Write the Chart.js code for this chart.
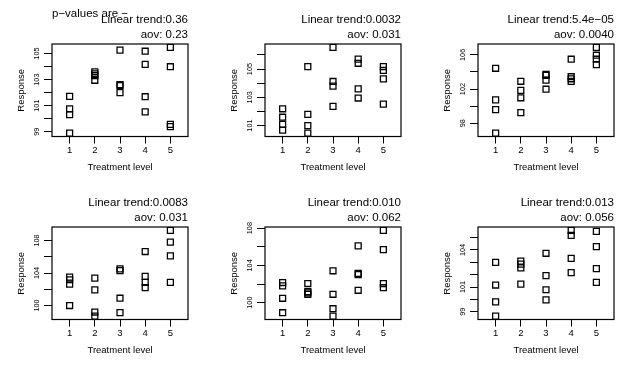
<!DOCTYPE html>
<html>
<head>
<meta charset="utf-8">
<script src="https://cdn.jsdelivr.net/npm/chart.js@4"></script>
<style>
  body { margin: 0; background: #fff; width: 640px; height: 370px; position: relative; overflow: hidden; }
  canvas { position: absolute; }
</style>
</head>
<body>
<script>
// treatment level of each observation (4 per level)
const levels = [1,1,1,1, 2,2,2,2, 3,3,3,3, 4,4,4,4, 5,5,5,5];

// response values
const response1 = [101.72,100.76,100.32,98.9, 103.6,103.45,103.3,102.95, 105.26,102.62,102.55,102.0, 105.18,104.17,101.69,100.53, 105.47,103.99,99.57,99.39];
const response2 = [102.19,101.59,101.09,100.68, 105.17,101.79,101.0,100.47, 106.53,104.12,103.79,102.36, 105.7,105.41,103.6,102.95, 105.17,104.9,104.3,102.52];
const response3 = [104.43,100.74,99.6,96.85, 102.91,101.84,100.98,99.25, 103.72,103.6,103.05,101.98, 105.49,103.44,103.2,102.9, 106.87,105.96,105.49,104.86];
const response4 = [103.5,103.17,102.64,100.0, 103.37,101.93,99.2,98.7, 104.5,104.3,100.9,99.12, 106.64,103.58,102.84,102.2, 109.24,107.8,106.1,102.84];
const response5 = [102.16,101.8,100.47,98.92, 102.05,101.19,101.05,100.9, 103.42,100.9,99.35,98.56, 106.09,103.14,103.0,101.33, 107.75,105.69,102.05,101.6];
const response6 = [102.99,101.16,99.8,98.65, 103.1,102.85,102.55,101.24, 103.73,101.92,100.78,99.96, 105.58,105.17,103.32,102.17, 105.5,104.27,102.49,101.38];

const trendP = ["0.36", "0.0032", "5.4e\u221205", "0.0083", "0.010", "0.013"];
const aovP = ["0.23", "0.031", "0.0040", "0.031", "0.062", "0.056"];

const xTicks = [1, 2, 3, 4, 5];
const yTickStep = [1, 1, 2, 2, 2, 1];
const yTickLabels = [
  [99, 101, 103, 105],
  [101, 103, 105],
  [98, 102, 106],
  [100, 104, 108],
  [100, 104, 108],
  [99, 101, 104]
];

const responses = [response1, response2, response3, response4, response5, response6];
const FONT = '"Liberation Sans", Arial, sans-serif';

// R style box round the plot plus the p-value lines above it
const rFrame = {
  id: 'rFrame',
  afterDraw(chart, args, opts) {
    const { ctx, chartArea: a } = chart;
    ctx.save();
    ctx.strokeStyle = '#000';
    ctx.lineWidth = 1.2;
    ctx.strokeRect(a.left, a.top, a.right - a.left, a.bottom - a.top);
    ctx.fillStyle = '#000';
    ctx.font = '11.5px ' + FONT;
    ctx.textBaseline = 'middle';
    if (opts.header) {
      ctx.textAlign = 'left';
      ctx.fillText(opts.header, a.left, a.top - 30);
    }
    ctx.textAlign = 'right';
    ctx.fillText(opts.line1, a.right, a.top - 24);
    ctx.fillText(opts.line2, a.right, a.top - 9);
    ctx.restore();
  }
};

responses.forEach((resp, i) => {
  const col = i % 3, row = Math.floor(i / 3);
  const canvas = document.createElement('canvas');
  canvas.width = 213;
  canvas.height = 183;
  canvas.style.left = (col * 213) + 'px';
  canvas.style.top = (row * 183) + 'px';
  document.body.appendChild(canvas);

  // R default: data range stretched by 4% each side
  const lo = Math.min(...resp), hi = Math.max(...resp);
  const ext = (hi - lo) * 0.04;
  const step = yTickStep[i];
  const labels = yTickLabels[i];

  new Chart(canvas.getContext('2d'), {
    type: 'scatter',
    data: {
      datasets: [{
        data: resp.map((v, k) => ({ x: levels[k], y: v })),
        pointStyle: 'rect',
        radius: 4.2,
        borderWidth: 1.3,
        borderColor: '#000',
        backgroundColor: 'rgba(0,0,0,0)'
      }]
    },
    options: {
      responsive: false,
      animation: false,
      layout: { padding: { top: 44, right: 25, left: 0, bottom: 0 } },
      plugins: {
        legend: { display: false },
        tooltip: { enabled: false },
        rFrame: {
          header: i === 0 ? 'p\u2212values are \u2212' : null,
          line1: 'Linear trend:' + trendP[i],
          line2: 'aov: ' + aovP[i]
        }
      },
      scales: {
        x: {
          type: 'linear',
          min: 0.3,
          max: 5.7,
          afterBuildTicks: s => { s.ticks = xTicks.map(v => ({ value: v })); },
          afterFit: s => { s.height = 46.5; },
          grid: { drawOnChartArea: false, drawTicks: true, tickLength: 7, color: '#000', lineWidth: 1 },
          border: { display: false },
          ticks: { color: '#000', font: { family: FONT, size: 9.5 }, padding: 1, autoSkip: false, maxRotation: 0 },
          title: { display: true, text: 'Treatment level', color: '#000', font: { family: FONT, size: 9.5 }, padding: { top: 0, bottom: 9.6 } }
        },
        y: {
          min: lo - ext,
          max: hi + ext,
          afterBuildTicks: s => {
            const t = [];
            for (let v = Math.ceil(s.min / step) * step; v <= s.max; v += step) t.push({ value: v });
            s.ticks = t;
          },
          afterFit: s => { s.width = 52; },
          grid: { drawOnChartArea: false, drawTicks: true, tickLength: 8, color: '#000', lineWidth: 1 },
          border: { display: false },
          ticks: {
            color: '#000',
            font: { family: FONT, size: 7.3 },
            padding: 0.5,
            autoSkip: false,
            minRotation: 90,
            maxRotation: 90,
            crossAlign: 'center',
            callback: v => labels.includes(v) ? String(v) : ''
          },
          title: { display: true, text: 'Response', color: '#000', font: { family: FONT, size: 9.5 }, padding: { top: 15.3, bottom: 0 } }
        }
      }
    },
    plugins: [rFrame]
  });
});
</script>
</body>
</html>
